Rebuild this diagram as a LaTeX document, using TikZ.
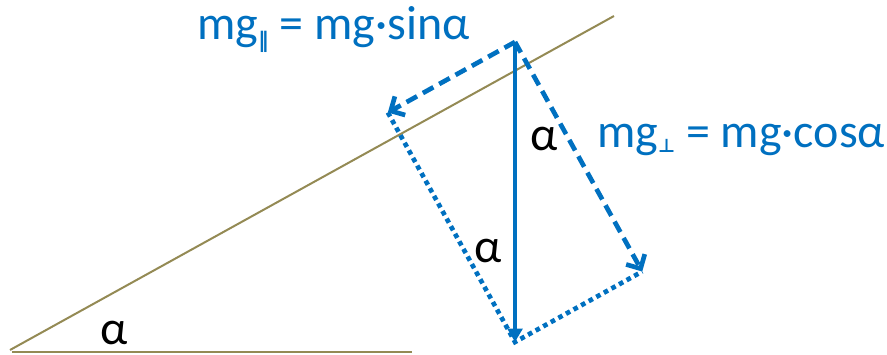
\documentclass[tikz,border=0pt]{standalone}
\usepackage{fontspec}
\setmainfont{Carlito}
\newfontfamily\symfont{DejaVu Sans}
\usepackage{xcolor}
\usetikzlibrary{calc,arrows.meta}
\definecolor{forceblue}{HTML}{0070C0}
\definecolor{slope}{HTML}{948A54}
\newcommand{\lowsym}[3]{\raisebox{-#2}{\symfont\bfseries\fontsize{#1}{#1}\selectfont #3}}

\begin{document}
\begin{tikzpicture}[x=0.75pt,y=0.75pt,
    slopeline/.style={slope, line width=1.5pt},
    weight/.style={forceblue, line width=3.5pt, -{Triangle[length=10pt,width=11pt]}},
    component/.style={forceblue, line width=3.5pt, dash pattern=on 9pt off 5pt,
      -{Straight Barb[length=8pt,width=16pt,line width=3.5pt]}},
    helper/.style={forceblue, line width=3.5pt, dash pattern=on 3.5pt off 3pt},
    lbl/.style={inner sep=0pt, anchor=base, text depth=0pt, font=\fontsize{36}{43}\selectfont}]
  \useasboundingbox (0,0) rectangle (887,354);

  % Incline and ground
  \coordinate (foot) at (10,4);
  \coordinate (crest) at (614,338);
  \coordinate (groundL) at (12,2);
  \coordinate (groundR) at (412,2);
  \draw[slopeline] (foot) -- (crest);
  \draw[slopeline] (groundL) -- (groundR);

  % Weight and its components (alpha = 29 deg)
  \coordinate (O) at (515,312);
  \coordinate (G) at ($(O)+(0,-300)$);
  \coordinate (P) at ($(O)+(209:145.4)$);
  \coordinate (N) at ($(O)+(-61:262.4)$);
  \draw[helper] (P) -- (G) -- (N);
  \draw[weight] (O) -- (G);
  \draw[component] (O) -- (P);
  \draw[component] (O) -- (N);

  % Labels
  \node[lbl, forceblue, anchor=base west] (par) at (197,314)
    {mg\lowsym{16pt}{6pt}{‖} = mg·sinα};
  \node[lbl, forceblue, anchor=base west] (perp) at (597,207)
    {mg\lowsym{14pt}{3.75pt}{⊥} = mg·cosα};
  \node[lbl] (a1) at (544,204) {α};
  \node[lbl] (a2) at (488,92) {α};
  \node[lbl] (a3) at (114,10) {α};
\end{tikzpicture}
\end{document}
